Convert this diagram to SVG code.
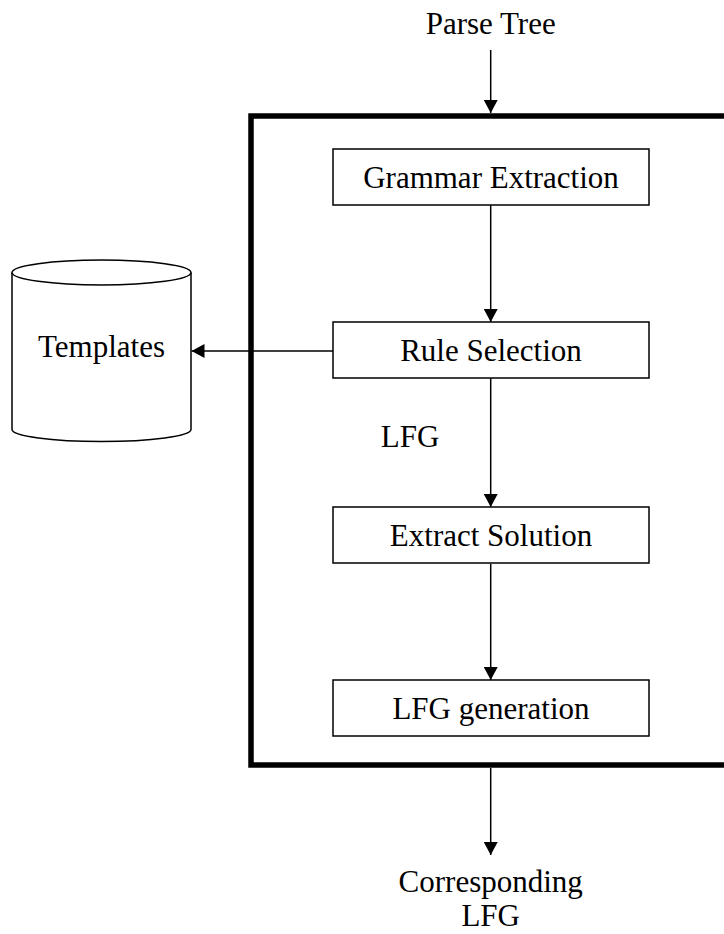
<svg xmlns="http://www.w3.org/2000/svg" width="724" height="934" viewBox="0 0 724 934">
  <style>
    .lbl { font-family: "Liberation Serif", "Times New Roman", serif; font-size: 31px; fill: #000; text-anchor: middle; }
    .box { fill: #fff; stroke: #000; stroke-width: 1.5; }
    .edge { stroke: #000; stroke-width: 1.5; fill: none; }
  </style>
  <defs>
    <marker id="arrow" viewBox="0 0 13 14" refX="13" refY="7" markerWidth="13" markerHeight="14" markerUnits="userSpaceOnUse" orient="auto">
      <path d="M0,0 L13,7 L0,14 Z" fill="#000"/>
    </marker>
  </defs>
  <rect width="724" height="934" fill="#fff"/>

  <!-- thick frame around the processing stages -->
  <g id="frame">
    <rect x="251" y="116" width="485" height="649" fill="none" stroke="#000" stroke-width="5.5"/>
  </g>

  <g id="connectors">
    <line class="edge" x1="490.7" y1="50" x2="490.7" y2="113" marker-end="url(#arrow)"/>
    <line class="edge" x1="490.7" y1="205" x2="490.7" y2="322" marker-end="url(#arrow)"/>
    <line class="edge" x1="333" y1="351" x2="191.5" y2="351" marker-end="url(#arrow)"/>
    <line class="edge" x1="490.7" y1="378" x2="490.7" y2="507" marker-end="url(#arrow)"/>
    <line class="edge" x1="490.7" y1="564" x2="490.7" y2="680" marker-end="url(#arrow)"/>
    <line class="edge" x1="490.7" y1="768" x2="490.7" y2="855" marker-end="url(#arrow)"/>
  </g>

  <g id="parse-tree">
    <text class="lbl" x="490.7" y="33.5">Parse Tree</text>
  </g>

  <g id="grammar-extraction">
    <rect class="box" x="333" y="149" width="316" height="56"/>
    <text class="lbl" x="491" y="188">Grammar Extraction</text>
  </g>

  <g id="rule-selection">
    <rect class="box" x="333" y="322" width="316" height="56"/>
    <text class="lbl" x="491" y="361">Rule Selection</text>
  </g>

  <g id="lfg-label">
    <text class="lbl" x="410" y="446.5">LFG</text>
  </g>

  <g id="extract-solution">
    <rect class="box" x="333" y="507" width="316" height="56"/>
    <text class="lbl" x="491" y="546">Extract Solution</text>
  </g>

  <g id="lfg-generation">
    <rect class="box" x="333" y="680" width="316" height="56"/>
    <text class="lbl" x="491" y="719">LFG generation</text>
  </g>

  <g id="templates">
    <path class="box" d="M12,272.5 L12,429.5 A89.5,12 0 0 0 191,429.5 L191,272.5"/>
    <ellipse class="box" cx="101.5" cy="272.5" rx="89.5" ry="12.5"/>
    <text class="lbl" x="101.5" y="357">Templates</text>
  </g>

  <g id="corresponding-lfg">
    <text class="lbl" x="490.7" y="892">Corresponding</text>
    <text class="lbl" x="490.7" y="926">LFG</text>
  </g>
</svg>
